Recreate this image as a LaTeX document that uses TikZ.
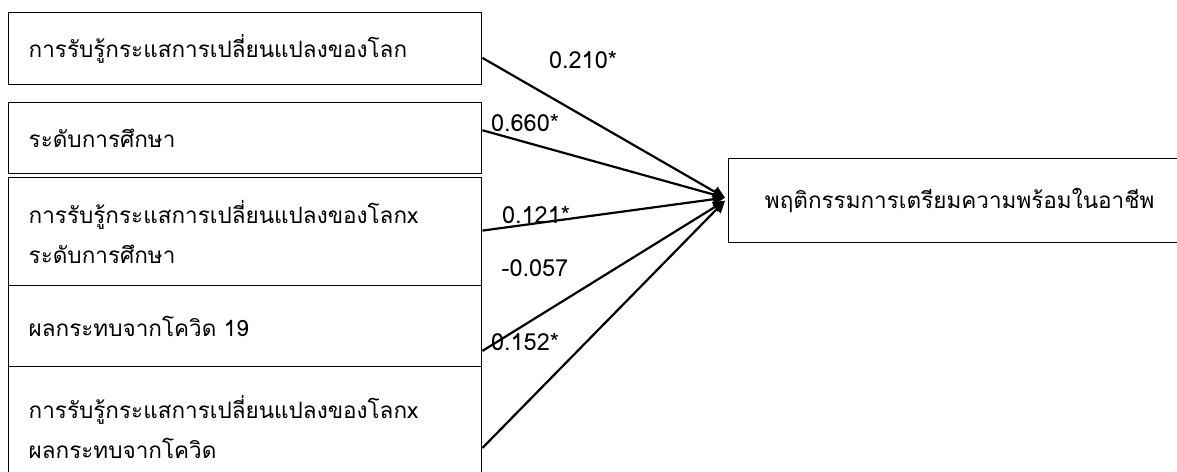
\documentclass[tikz,border=0pt]{standalone}
\usepackage{fontspec}
\newfontfamily\thaifont[Script=Thai]{Loma}
\usetikzlibrary{arrows.meta,calc}
\begin{document}
\begin{tikzpicture}[x=1pt,y=-1pt,
  every node/.style={font=\thaifont\fontsize{22.5}{40}\selectfont},
  var/.style={draw,line width=1.4pt,anchor=north west,minimum width=473pt,
    text width=433pt,inner xsep=20pt,align=left,inner ysep=0pt},
  arr/.style={line width=2.2pt,-{Triangle[length=12pt,width=11pt]}},
  lbl/.style={inner sep=0pt,font=\thaifont\fontsize{23.5}{28}\selectfont}]
\useasboundingbox (0,0) rectangle (1177,471);
\node[var,minimum height=72pt] (b1) at (8,12) {การรับรู้กระแสการเปลี่ยนแปลงของโลก};
\node[var,minimum height=71pt] (b2) at (8,102) {ระดับการศึกษา};
\node[var,minimum height=108pt] (b3) at (8,177) {การรับรู้กระแสการเปลี่ยนแปลงของโลกx\\ระดับการศึกษา};
\node[var,minimum height=81pt] (b4) at (8,285) {ผลกระทบจากโควิด 19};
\node[var,minimum height=120pt] (b5) at (8,366) {การรับรู้กระแสการเปลี่ยนแปลงของโลกx\\ผลกระทบจากโควิด};
\node[draw,line width=1.4pt,anchor=north west,minimum width=462pt,minimum height=84pt,inner sep=0pt] (t) at (728,158) {พฤติกรรมการเตรียมความพร้อมในอาชีพ};
\coordinate (s1) at ($(b1.north east)!0.625!(b1.south east)$);
\coordinate (s2) at ($(b2.north east)!0.39!(b2.south east)$);
\coordinate (s3) at ($(b3.north east)!0.49!(b3.south east)$);
\coordinate (s4) at ($(b4.north east)!0.80!(b4.south east)$);
\coordinate (s5) at ($(b5.north east)!0.675!(b5.south east)$);
\draw[arr] (s1) -- ($(t.west)+(-3,-3)$);
\draw[arr] (s2) -- ($(t.west)+(-3,-3)$);
\draw[arr] (s3) -- ($(t.west)+(-3,-3)$);
\draw[arr] (s4) -- ($(t.west)+(-3,0)$);
\draw[arr] (s5) -- ($(t.west)+(-3,0)$);
\node[lbl] (l1) at (583,60) {0.210*};
\node[lbl] (l2) at (525,123) {0.660*};
\node[lbl] (l3) at (536,215) {0.121*};
\node[lbl] (l4) at (535,268) {-0.057};
\node[lbl] (l5) at (525,342) {0.152*};
\end{tikzpicture}
\end{document}
